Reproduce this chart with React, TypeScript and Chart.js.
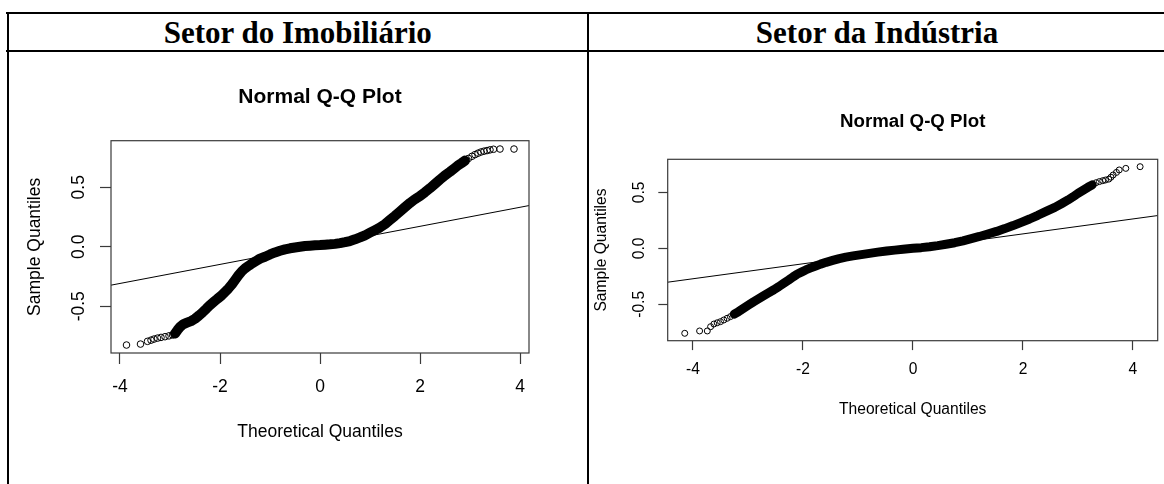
import React, { useEffect, useRef } from "react";
import { Chart, registerables } from "chart.js";

Chart.register(...registerables);

// ---------- shared tick values ----------
const X_TICKS = [-4, -2, 0, 2, 4];
const X_TICK_LABELS = ["-4", "-2", "0", "2", "4"];
const Y_TICKS = [-0.5, 0, 0.5];
const Y_TICK_LABELS = ["-0.5", "0.0", "0.5"];

const HEADERS = ["Setor do Imobiliário", "Setor da Indústria"];
const PLOT_TITLE = "Normal Q-Q Plot";
const X_TITLE = "Theoretical Quantiles";
const Y_TITLE = "Sample Quantiles";

// ---------- Setor do Imobiliário ----------
const imoLowX = [-3.87, -3.59, -3.45, -3.38, -3.32, -3.25, -3.18, -3.1, -3.02, -2.95];
const imoLowY = [-0.826, -0.818, -0.795, -0.785, -0.776, -0.768, -0.762, -0.756, -0.749, -0.741];
const imoBandX = [
  -2.9, -2.85, -2.8, -2.74, -2.66, -2.58, -2.5, -2.42, -2.35, -2.27,
  -2.2, -2.12, -2.05, -1.97, -1.9, -1.83, -1.76, -1.7, -1.63, -1.56,
  -1.5, -1.42, -1.35, -1.27, -1.2, -1.1, -1.0, -0.9, -0.8, -0.7,
  -0.6, -0.5, -0.4, -0.3, -0.2, -0.1, 0.0, 0.1, 0.2, 0.3,
  0.4, 0.5, 0.6, 0.7, 0.8, 0.9, 1.0, 1.1, 1.2, 1.3,
  1.4, 1.5, 1.6, 1.7, 1.8, 1.9, 2.0, 2.1, 2.2, 2.3,
  2.4, 2.5, 2.6, 2.7, 2.76, 2.83, 2.9,
];
const imoBandY = [
  -0.73, -0.7, -0.675, -0.652, -0.638, -0.625, -0.605, -0.578, -0.552, -0.52,
  -0.49, -0.462, -0.437, -0.41, -0.38, -0.35, -0.315, -0.28, -0.24, -0.205,
  -0.182, -0.158, -0.138, -0.118, -0.1, -0.084, -0.065, -0.048, -0.034, -0.022,
  -0.013, -0.006, 0.0, 0.006, 0.009, 0.012, 0.014, 0.017, 0.02, 0.024,
  0.03, 0.038, 0.048, 0.062, 0.078, 0.096, 0.118, 0.14, 0.162, 0.19,
  0.225, 0.26, 0.297, 0.333, 0.368, 0.4, 0.426, 0.458, 0.492, 0.528,
  0.565, 0.6, 0.63, 0.663, 0.683, 0.703, 0.724,
];
const imoHighX = [2.97, 3.04, 3.1, 3.16, 3.22, 3.28, 3.34, 3.4, 3.47, 3.6, 3.88];
const imoHighY = [0.742, 0.76, 0.774, 0.786, 0.796, 0.803, 0.808, 0.814, 0.819, 0.821, 0.821];
const imoLine = [0.0115, 0.08]; // intercept, slope
const imoXRange = [-4.18, 4.18];
const imoYRange = [-0.893, 0.891];

// ---------- Setor da Indústria ----------
const indLowX = [-4.15, -3.88, -3.74, -3.68, -3.62, -3.56, -3.5, -3.44, -3.38, -3.32];
const indLowY = [-0.759, -0.738, -0.738, -0.7, -0.676, -0.665, -0.655, -0.64, -0.625, -0.61];
const indBandX = [
  -3.25, -3.17, -3.08, -2.99, -2.9, -2.81, -2.72, -2.62, -2.53, -2.44,
  -2.35, -2.26, -2.18, -2.1, -2.02, -1.95, -1.86, -1.77, -1.68, -1.58,
  -1.46, -1.34, -1.22, -1.09, -0.94, -0.79, -0.64, -0.48, -0.33, -0.18,
  0.0, 0.15, 0.3, 0.45, 0.6, 0.76, 0.91, 1.06, 1.21, 1.36,
  1.52, 1.67, 1.82, 1.97, 2.12, 2.27, 2.42, 2.58, 2.7, 2.82,
  2.91, 3.0, 3.09, 3.18, 3.26,
];
const indBandY = [
  -0.588, -0.565, -0.535, -0.506, -0.478, -0.452, -0.425, -0.396, -0.37, -0.342,
  -0.312, -0.283, -0.255, -0.229, -0.21, -0.193, -0.175, -0.158, -0.141, -0.125,
  -0.108, -0.092, -0.079, -0.068, -0.056, -0.045, -0.034, -0.024, -0.016, -0.009,
  0.0, 0.006, 0.014, 0.024, 0.036, 0.05, 0.067, 0.086, 0.106, 0.128,
  0.151, 0.176, 0.203, 0.232, 0.262, 0.295, 0.33, 0.366, 0.398, 0.432,
  0.46, 0.491, 0.518, 0.545, 0.567,
];
const indHighX = [3.33, 3.39, 3.45, 3.5, 3.56, 3.6, 3.64, 3.7, 3.75, 3.87, 4.13];
const indHighY = [0.586, 0.596, 0.604, 0.61, 0.618, 0.635, 0.655, 0.678, 0.7, 0.714, 0.729];
const indLine = [-0.0046, 0.0668];
const indXRange = [-4.46, 4.45];
const indYRange = [-0.825, 0.795];

// ---------- styling / layout ----------
const SANS = "'Liberation Sans', Arial, Helvetica, sans-serif";
const SERIF = "'Liberation Serif', 'Times New Roman', Times, serif";

type Panel = {
  lowX: number[]; lowY: number[];
  bandX: number[]; bandY: number[];
  highX: number[]; highY: number[];
  line: number[]; xRange: number[]; yRange: number[];
  canvas: { left: number; top: number; width: number; height: number };
  titleSize: number; titlePadTop: number; titlePadBottom: number;
  padRight: number; yAxisWidth: number; xAxisHeight: number;
  labelSize: number; tickLen: number; yTickPad: number; yTitlePad: number;
  xTickPad: number; xTitlePad: number; pointR: number; bandW: number;
};

const PANELS: Panel[] = [
  {
    lowX: imoLowX, lowY: imoLowY, bandX: imoBandX, bandY: imoBandY, highX: imoHighX, highY: imoHighY,
    line: imoLine, xRange: imoXRange, yRange: imoYRange,
    canvas: { left: 10, top: 55, width: 570, height: 429 },
    titleSize: 21, titlePadTop: 30, titlePadBottom: 30.5,
    padRight: 51, yAxisWidth: 101, xAxisHeight: 131,
    labelSize: 17.5, tickLen: 11, yTickPad: 5.9, yTitlePad: 14.5,
    xTickPad: 12.2, xTitlePad: 41.8, pointR: 3.3, bandW: 10,
  },
  {
    lowX: indLowX, lowY: indLowY, bandX: indBandX, bandY: indBandY, highX: indHighX, highY: indHighY,
    line: indLine, xRange: indXRange, yRange: indYRange,
    canvas: { left: 592, top: 55, width: 572, height: 429 },
    titleSize: 18.7, titlePadTop: 55.8, titlePadBottom: 26.06,
    padRight: 6.3, yAxisWidth: 75.7, xAxisHeight: 143.3,
    labelSize: 15.6, tickLen: 9.4, yTickPad: 4.86, yTitlePad: 0,
    xTickPad: 10.54, xTitlePad: 65.34, pointR: 3.0, bandW: 9,
  },
];

const boxPlugin = {
  id: "rbox",
  afterDatasetsDraw(chart: any) {
    const { ctx, chartArea } = chart;
    const { left, top, right, bottom } = chartArea;
    ctx.save();
    ctx.strokeStyle = "#3a3a3a";
    ctx.lineWidth = 1.2;
    ctx.strokeRect(left, top, right - left, bottom - top);
    ctx.restore();
  },
};

const zip = (xs: number[], ys: number[]) => xs.map((x, i) => ({ x, y: ys[i] }));

function QQChart({ p }: { p: Panel }) {
  const ref = useRef<HTMLCanvasElement | null>(null);
  useEffect(() => {
    if (!ref.current) return;
    const circle = {
      pointStyle: "circle",
      pointRadius: p.pointR,
      pointBorderWidth: 1,
      pointBorderColor: "#000",
      pointBackgroundColor: "rgba(0,0,0,0)",
      pointHoverRadius: p.pointR,
    };
    const lineEnds = [p.xRange[0], p.xRange[1]].map((x) => ({ x, y: p.line[0] + p.line[1] * x }));
    const chart = new Chart(ref.current, {
      type: "scatter",
      data: {
        datasets: [
          { data: zip(p.lowX, p.lowY), showLine: false, ...circle } as any,
          {
            data: zip(p.bandX, p.bandY), showLine: true, borderColor: "#000", borderWidth: p.bandW,
            borderJoinStyle: "round", borderCapStyle: "round", tension: 0, ...circle,
          } as any,
          { data: zip(p.highX, p.highY), showLine: false, ...circle } as any,
          {
            data: lineEnds, showLine: true, borderColor: "#000", borderWidth: 1, pointRadius: 0, pointHoverRadius: 0,
          } as any,
        ],
      },
      options: {
        responsive: false,
        animation: false,
        devicePixelRatio: 1,
        events: [],
        layout: { autoPadding: false, padding: { left: 0, right: p.padRight, top: 0, bottom: 0 } },
        plugins: {
          legend: { display: false },
          tooltip: { enabled: false },
          title: {
            display: true,
            text: PLOT_TITLE,
            fullSize: false,
            color: "#000",
            font: { family: SANS, size: p.titleSize, weight: "bold", lineHeight: 1.2 },
            padding: { top: p.titlePadTop, bottom: p.titlePadBottom },
          },
        },
        scales: {
          x: {
            type: "linear",
            min: p.xRange[0],
            max: p.xRange[1],
            afterBuildTicks: (s: any) => { s.ticks = X_TICKS.map((v) => ({ value: v })); },
            afterFit: (s: any) => { s.height = p.xAxisHeight; },
            grid: {
              display: true, drawOnChartArea: false, drawTicks: true, tickLength: p.tickLen,
              tickColor: "#3a3a3a", tickWidth: 1.2, color: "#3a3a3a",
            },
            border: { display: false },
            ticks: {
              autoSkip: false, maxRotation: 0, minRotation: 0, padding: p.xTickPad, color: "#000",
              font: { family: SANS, size: p.labelSize, lineHeight: 1.2 },
              callback: (v: any) => { const i = X_TICKS.indexOf(Number(v)); return i >= 0 ? X_TICK_LABELS[i] : ""; },
            },
            title: {
              display: true, text: X_TITLE, color: "#000",
              font: { family: SANS, size: p.labelSize, lineHeight: 1.2 },
              padding: { top: 0, bottom: p.xTitlePad },
            },
          },
          y: {
            type: "linear",
            min: p.yRange[0],
            max: p.yRange[1],
            afterBuildTicks: (s: any) => { s.ticks = Y_TICKS.map((v) => ({ value: v })); },
            afterFit: (s: any) => { s.width = p.yAxisWidth; },
            grid: {
              display: true, drawOnChartArea: false, drawTicks: true, tickLength: p.tickLen,
              tickColor: "#3a3a3a", tickWidth: 1.2, color: "#3a3a3a",
            },
            border: { display: false },
            ticks: {
              autoSkip: false, minRotation: 90, maxRotation: 90, crossAlign: "center",
              padding: p.yTickPad, color: "#000",
              font: { family: SANS, size: p.labelSize, lineHeight: 1.2 },
              callback: (v: any) => {
                const i = Y_TICKS.findIndex((t) => Math.abs(t - Number(v)) < 1e-9);
                return i >= 0 ? Y_TICK_LABELS[i] : "";
              },
            },
            title: {
              display: true, text: Y_TITLE, color: "#000",
              font: { family: SANS, size: p.labelSize, lineHeight: 1.2 },
              padding: { top: p.yTitlePad, bottom: 0 },
            },
          },
        },
      } as any,
      plugins: [boxPlugin],
    });
    return () => chart.destroy();
  }, [p]);
  const c = p.canvas;
  return (
    <canvas
      ref={ref}
      width={c.width}
      height={c.height}
      style={{ position: "absolute", left: c.left, top: c.top, width: c.width, height: c.height }}
    />
  );
}

export default function App() {
  const line = (style: React.CSSProperties) => (
    <div style={{ position: "absolute", background: "#000", ...style }} />
  );
  const header = (text: string, left: number, width: number) => (
    <div
      style={{
        position: "absolute", left, width, top: 17.3, height: 31, lineHeight: "31px",
        textAlign: "center", fontFamily: SERIF, fontWeight: "bold", fontSize: 31, color: "#000",
        whiteSpace: "nowrap",
      }}
    >
      {text}
    </div>
  );
  return (
    <div style={{ position: "absolute", left: 0, top: 0, width: 1164, height: 484, background: "#fff", overflow: "hidden" }}>
      {line({ left: 6, top: 12, width: 1158, height: 2 })}
      {line({ left: 6, top: 50, width: 1158, height: 2 })}
      {line({ left: 6.5, top: 12, width: 2, height: 472 })}
      {line({ left: 587, top: 12, width: 2, height: 472 })}
      {header(HEADERS[0], 8.5, 578.5)}
      {header(HEADERS[1], 589, 576)}
      {PANELS.map((p, i) => (
        <QQChart key={i} p={p} />
      ))}
    </div>
  );
}
